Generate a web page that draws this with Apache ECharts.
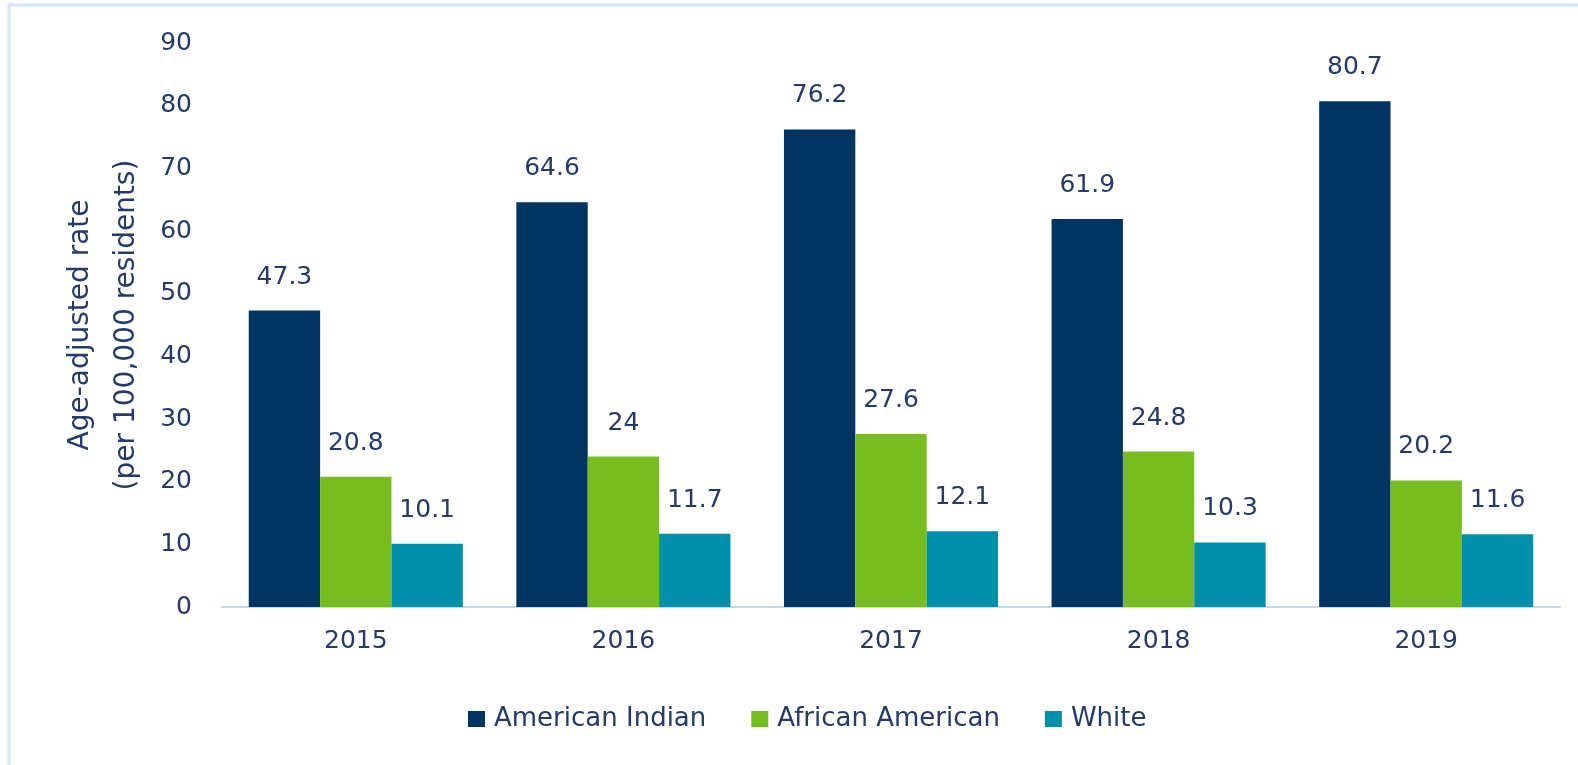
<!DOCTYPE html>
<html>
<head>
<meta charset="utf-8">
<script src="https://cdn.jsdelivr.net/npm/echarts@6/dist/echarts.min.js"></script>
<style>
  html, body { margin: 0; padding: 0; background: #fff; }
  #chart { width: 1578px; height: 765px; }
</style>
</head>
<body>
<div id="chart"></div>
<script>
  // data
  const years = ['2015', '2016', '2017', '2018', '2019'];
  const americanIndian = [47.3, 64.6, 76.2, 61.9, 80.7];
  const africanAmerican = [20.8, 24, 27.6, 24.8, 20.2];
  const white = [10.1, 11.7, 12.1, 10.3, 11.6];

  const textColor = '#233a6b';
  const font = '"DejaVu Sans", sans-serif';

  const chart = echarts.init(document.getElementById('chart'));

  function barSeries(name, data, color) {
    return {
      name: name,
      type: 'bar',
      data: data,
      barGap: '0%',
      barCategoryGap: '20%',
      itemStyle: { color: color },
      label: {
        show: true,
        position: 'top',
        distance: 21,
        color: textColor,
        fontFamily: font,
        fontSize: 25
      }
    };
  }

  chart.setOption({
    animation: false,
    graphic: [{
      type: 'rect',
      shape: { x: 9, y: 5, width: 1600, height: 800 },
      style: { fill: 'none', stroke: '#d3e6fa', lineWidth: 3 },
      silent: true
    }],
    grid: { left: 222, right: 18, top: 43, bottom: 158 },
    legend: {
      bottom: 28,
      left: 463,
      itemWidth: 17,
      itemHeight: 16,
      itemGap: 45,
      icon: 'rect',
      textStyle: { color: textColor, fontFamily: font, fontSize: 26, padding: [0, 0, 0, 4] },
      data: ['American Indian', 'African American', 'White']
    },
    xAxis: {
      type: 'category',
      data: years,
      axisLine: { lineStyle: { color: '#bcdcf5', width: 2 } },
      axisTick: { show: false },
      axisLabel: { color: textColor, fontFamily: font, fontSize: 25, margin: 22 }
    },
    yAxis: {
      type: 'value',
      min: 0,
      max: 90,
      interval: 10,
      name: 'Age-adjusted rate\n(per 100,000 residents)',
      nameLocation: 'middle',
      nameGap: 71,
      nameRotate: 90,
      nameTextStyle: { color: textColor, fontFamily: font, fontSize: 28, lineHeight: 46 },
      splitLine: { show: false },
      axisLine: { show: false },
      axisTick: { show: false },
      axisLabel: { color: textColor, fontFamily: font, fontSize: 25, margin: 30 }
    },
    series: [
      barSeries('American Indian', americanIndian, '#003461'),
      barSeries('African American', africanAmerican, '#78bd20'),
      barSeries('White', white, '#008ea8')
    ]
  });
</script>
</body>
</html>
